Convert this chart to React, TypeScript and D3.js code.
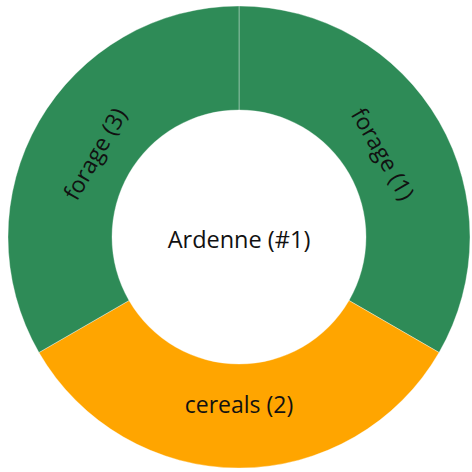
import React, { useEffect, useRef } from 'react'
import * as d3 from 'd3'

// Data
const crops = ['forage', 'cereals', 'forage']
const rotationOrder = [1, 2, 3]
const shares = [1, 1, 1]
const cropColors: Record<string, string> = { forage: '#2e8b57', cereals: '#ffa500' }
const centerTitle = 'Ardenne (#1)'

export default function App() {
  const ref = useRef<SVGSVGElement | null>(null)

  useEffect(() => {
    const totalW = 472
    const totalH = 472
    const cx = 239
    const cy = 237
    const outerR = 231
    const innerR = 127
    const labelR = 167
    const font = '"Open Sans", "Noto Sans", sans-serif'

    const data = crops.map((c, i) => ({ crop: c, order: rotationOrder[i], value: shares[i] }))

    const svg = d3.select(ref.current)
    svg.selectAll('*').remove()
    svg.attr('width', totalW).attr('height', totalH)

    const g = svg.append('g').attr('transform', `translate(${cx}, ${cy})`)

    const pie = d3.pie<any>().sort(null).value(d => d.value)
    const arc = d3.arc<any>().innerRadius(innerR).outerRadius(outerR)
    const arcs = pie(data)

    g.selectAll('path')
      .data(arcs)
      .enter()
      .append('path')
      .attr('d', arc)
      .attr('fill', d => cropColors[d.data.crop])
      .attr('stroke', '#ffffff')
      .attr('stroke-opacity', 0.35)
      .attr('stroke-width', 1)

    const labelArc = d3.arc<any>().innerRadius(labelR).outerRadius(labelR)

    g.selectAll('text.slice')
      .data(arcs)
      .enter()
      .append('text')
      .attr('class', 'slice')
      .attr('transform', d => {
        const [x, y] = labelArc.centroid(d)
        let deg = ((d.startAngle + d.endAngle) / 2) * 180 / Math.PI
        if (deg > 90 && deg < 270) deg -= 180
        return `translate(${x}, ${y}) rotate(${deg})`
      })
      .attr('text-anchor', 'middle')
      .attr('dominant-baseline', 'central')
      .style('font-family', font)
      .style('font-size', '23px')
      .attr('fill', '#111111')
      .text(d => `${d.data.crop} (${d.data.order})`)

    g.append('text')
      .attr('text-anchor', 'middle')
      .attr('dominant-baseline', 'central')
      .attr('y', 2)
      .style('font-family', font)
      .style('font-size', '23.5px')
      .attr('fill', '#111111')
      .text(centerTitle)
  }, [])

  return <svg ref={ref} style={{ position: 'absolute', left: 0, top: 0 }} />
}
